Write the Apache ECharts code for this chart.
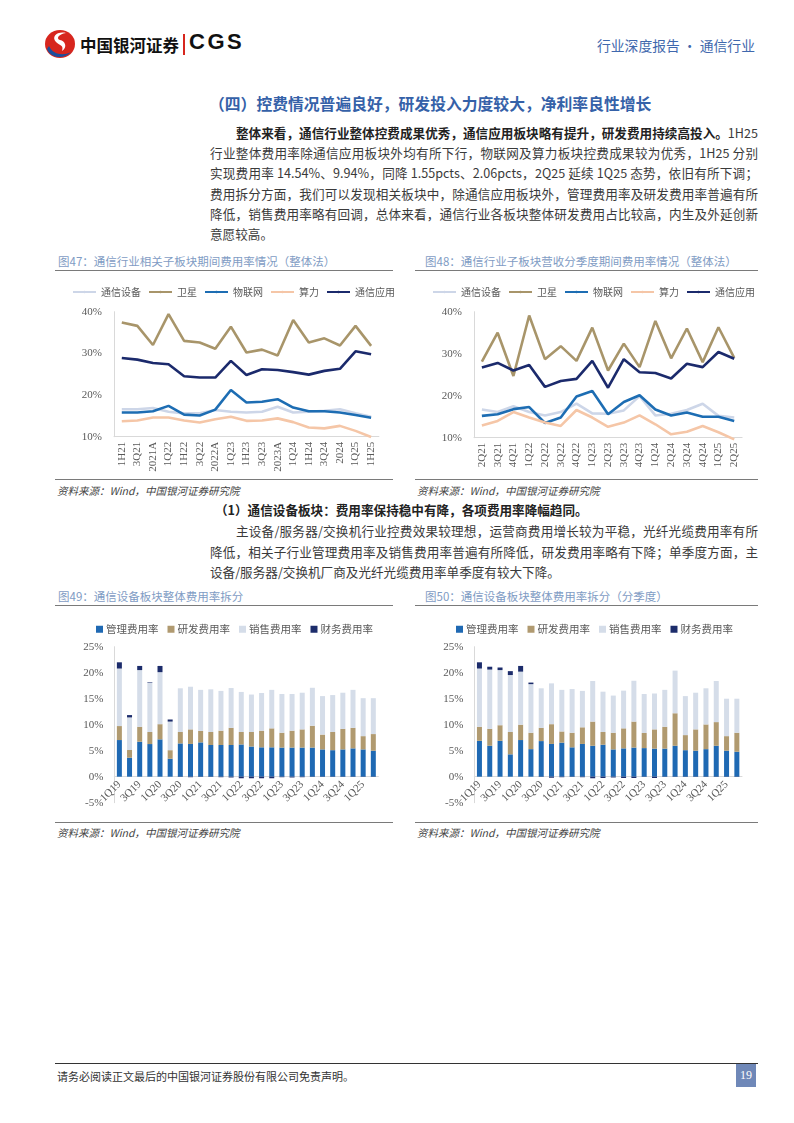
<!DOCTYPE html>
<html><head><meta charset="utf-8">
<script src="https://cdn.jsdelivr.net/npm/echarts@6/dist/echarts.min.js"></script>
<style>
body{margin:0;background:#fff;}
#page{position:relative;width:794px;height:1123px;background:#fff;overflow:hidden;font-family:"Noto Sans CJK SC","Noto Sans",sans-serif;color:#3a3a3a;}
.abs{position:absolute;white-space:nowrap;}
.ln{position:absolute;left:210px;width:548px;height:20px;line-height:20px;font-size:12.6px;text-align:justify;text-align-last:justify;white-space:nowrap;color:#3a3a3a;}
.ln.last{text-align-last:left;}
.figt{position:absolute;font-size:11.5px;color:#7f9cc4;height:16px;line-height:16px;}
.rule{position:absolute;height:1px;background:#7a7a7a;}
.src{position:absolute;font-size:10.5px;font-style:italic;color:#444;}
.chart{position:absolute;}
b{font-weight:700;color:#222;}
</style></head>
<body><div id="page">
<!-- header -->
<svg class="abs" style="left:44px;top:29px" width="32" height="30" viewBox="0 0 32 30">
 <ellipse cx="16" cy="15" rx="15" ry="14" fill="#d7261e"/>
 <path d="M3 20 C6 29 20 31 27 23 C20 27 9 26 5 17 Z" fill="#1c4e9c"/>
 <path d="M22 4 C13 2 7 8 12 13 C16 17 20 16 18 22 C24 18 21 12 16 11 C12 10 14 5 22 4 Z" fill="#fff"/>
</svg>
<div class="abs" style="left:80px;top:33px;font-size:16.5px;font-weight:700;color:#111;">中国银河证券</div>
<div class="abs" style="left:183px;top:34px;width:2px;height:21px;background:#d7261e"></div>
<div class="abs" style="left:189px;top:29px;font-size:22px;font-weight:700;color:#111;letter-spacing:2.5px;font-family:'Liberation Sans',Arial,sans-serif">CGS</div>
<div class="abs" style="left:597px;top:35px;font-size:13.8px;color:#3f68ad">行业深度报告 · 通信行业</div>

<div class="abs" style="left:209px;top:92px;font-size:15.8px;font-weight:700;color:#3561a8">（四）控费情况普遍良好，研发投入力度较大，净利率良性增长</div>

<div class="ln" style="top:123px;left:236px;width:522px"><b>整体来看，通信行业整体控费成果优秀，通信应用板块略有提升，研发费用持续高投入。</b>1H25</div>
<div class="ln" style="top:143px">行业整体费用率除通信应用板块外均有所下行，物联网及算力板块控费成果较为优秀，1H25 分别</div>
<div class="ln" style="top:163px">实现费用率 14.54%、9.94%，同降 1.55pcts、2.06pcts，2Q25 延续 1Q25 态势，依旧有所下调；</div>
<div class="ln" style="top:184px">费用拆分方面，我们可以发现相关板块中，除通信应用板块外，管理费用率及研发费用率普遍有所</div>
<div class="ln" style="top:204px">降低，销售费用率略有回调，总体来看，通信行业各板块整体研发费用占比较高，内生及外延创新</div>
<div class="ln last" style="top:224px">意愿较高。</div>

<div class="figt" style="left:58px;top:253px">图47：通信行业相关子板块期间费用率情况（整体法）</div>
<div class="rule" style="left:55px;top:270px;width:338px"></div>
<div class="figt" style="left:425px;top:253px">图48：通信行业子板块营收分季度期间费用率情况（整体法）</div>
<div class="rule" style="left:415px;top:270px;width:343px"></div>
<div id="c1" class="chart" style="left:55px;top:276px;width:340px;height:202px"></div>
<div id="c2" class="chart" style="left:415px;top:276px;width:345px;height:202px"></div>
<div class="rule" style="left:55px;top:479px;width:338px"></div>
<div class="rule" style="left:415px;top:479px;width:343px"></div>
<div class="src" style="left:57px;top:483px">资料来源：Wind，中国银河证券研究院</div>
<div class="src" style="left:417px;top:483px">资料来源：Wind，中国银河证券研究院</div>

<div class="abs" style="left:215px;top:500px;font-size:12.6px;font-weight:700;color:#222">（1）通信设备板块：费用率保持稳中有降，各项费用率降幅趋同。</div>
<div class="ln" style="top:521px;left:236px;width:522px">主设备/服务器/交换机行业控费效果较理想，运营商费用增长较为平稳，光纤光缆费用率有所</div>
<div class="ln" style="top:542px">降低，相关子行业管理费用率及销售费用率普遍有所降低，研发费用率略有下降；单季度方面，主</div>
<div class="ln last" style="top:562px">设备/服务器/交换机厂商及光纤光缆费用率单季度有较大下降。</div>

<div class="figt" style="left:58px;top:588px">图49：通信设备板块整体费用率拆分</div>
<div class="rule" style="left:55px;top:605px;width:338px"></div>
<div class="figt" style="left:425px;top:588px">图50：通信设备板块整体费用率拆分（分季度）</div>
<div class="rule" style="left:415px;top:605px;width:343px"></div>
<div id="c3" class="chart" style="left:55px;top:610px;width:340px;height:211px"></div>
<div id="c4" class="chart" style="left:415px;top:610px;width:345px;height:211px"></div>
<div class="rule" style="left:55px;top:822px;width:338px"></div>
<div class="rule" style="left:415px;top:822px;width:343px"></div>
<div class="src" style="left:57px;top:825px">资料来源：Wind，中国银河证券研究院</div>
<div class="src" style="left:417px;top:825px">资料来源：Wind，中国银河证券研究院</div>

<div class="rule" style="left:55px;top:1063px;width:703px;background:#333"></div>
<div class="abs" style="left:57px;top:1068px;font-size:11px;color:#333">请务必阅读正文最后的中国银河证券股份有限公司免责声明。</div>
<div class="abs" style="left:736px;top:1064px;width:20px;height:23px;background:#6f88b8;color:#fff;font-size:12px;line-height:23px;text-align:center;font-family:'Liberation Serif',serif">19</div>
</div>
<script>
// ---- data ----
const catsHalf = ['1H21','3Q21','2021A','1Q22','1H22','3Q22','2022A','1Q23','1H23','3Q23','2023A','1Q24','1H24','3Q24','2024','1Q25','1H25'];
const catsSeason = ['2Q21','3Q21','4Q21','1Q22','2Q22','3Q22','4Q22','1Q23','2Q23','3Q23','4Q23','1Q24','2Q24','3Q24','4Q24','1Q25','2Q25'];
const lineNames = ['通信设备','卫星','物联网','算力','通信应用'];

// fig47 (cumulative)
const a_equip = [16.6,16.6,16.9,16.0,15.6,15.6,16.4,16.0,15.8,16.0,17.2,15.8,16.0,16.2,16.6,15.6,14.8];
const a_sat   = [37.4,36.6,32.0,39.4,33.0,32.6,31.1,36.4,30.2,30.9,29.5,38.0,32.6,33.6,31.9,36.6,31.8];
const a_iot   = [15.8,15.8,16.1,17.4,15.3,15.1,16.5,21.2,18.2,18.4,19.0,17.0,16.1,16.1,15.8,15.2,14.54];
const a_comp  = [13.7,13.9,14.6,14.6,13.9,13.4,14.2,14.8,13.8,13.9,14.4,13.5,12.2,12.0,12.6,11.4,9.94];
const a_app   = [28.9,28.5,27.7,27.4,24.5,24.2,24.2,28.2,24.8,26.2,26.0,25.5,24.9,25.8,26.3,30.5,29.8];

// fig48 (single quarter)
const b_equip = [16.7,16.1,17.5,16.1,15.3,16.1,18.1,15.8,15.7,16.5,19.9,15.3,15.7,16.6,18.1,15.2,14.8];
const b_sat   = [28.1,35.0,24.7,39.1,28.7,31.8,28.3,36.2,26.0,32.4,26.8,37.8,28.9,36.0,28.0,36.3,29.0];
const b_iot   = [15.2,15.6,16.8,17.3,13.5,14.8,19.8,21.1,15.6,18.5,20.1,16.7,15.3,16.0,15.0,15.0,14.0];
const b_comp  = [12.9,14.0,16.1,14.8,13.6,12.8,16.6,14.8,12.6,13.6,15.3,13.2,10.8,11.4,12.8,11.3,9.6];
const b_app   = [26.7,27.8,26.0,27.3,22.1,23.5,24.0,28.3,21.9,28.7,25.6,25.4,24.1,27.6,26.8,30.4,28.8];

const yTicksLine = [10, 40, 10]; // min, max, interval
const yTicksBar = [-5, 25, 5];

const catsQ = ['1Q19','2Q19','3Q19','4Q19','1Q20','2Q20','3Q20','4Q20','1Q21','2Q21','3Q21','4Q21','1Q22','2Q22','3Q22','4Q22','1Q23','2Q23','3Q23','4Q23','1Q24','2Q24','3Q24','4Q24','1Q25','2Q25'];
const barNames = ['管理费用率','研发费用率','销售费用率','财务费用率'];

// fig49
const c_admin = [7.05,3.65,6.73,6.28,7.18,3.46,6.4,6.3,6.6,6.1,6.1,6.1,6.2,5.8,5.65,5.65,5.6,5.6,5.6,5.6,5.25,5.1,5.25,5.45,5.25,5.0];
const c_rd    = [2.69,1.48,2.87,2.32,2.92,1.64,2.2,2.8,2.2,2.5,2.75,3.3,2.4,2.8,3.2,3.65,2.85,3.25,3.5,4.2,2.85,3.5,3.95,3.95,2.55,3.2];
const c_sales = [11.06,6.27,10.9,9.5,10.0,5.5,8.4,8.2,7.9,8.2,7.65,7.65,7.7,7.2,7.25,7.4,7.45,7.05,7.05,7.3,7.4,7.1,6.95,7.3,7.3,6.9];
const c_fin   = [1.2,0.45,0.8,0.1,1.2,0.4,-0.05,-0.1,-0.05,-0.05,-0.1,-0.15,-0.3,-0.3,-0.3,-0.3,-0.1,-0.15,-0.1,-0.05,-0.05,-0.05,-0.05,-0.05,-0.05,-0.05];

// fig50
const d_admin = [6.9,5.95,6.9,4.3,7.05,5.3,6.85,6.3,6.55,5.65,6.3,5.95,6.15,5.25,5.45,5.6,5.5,5.4,5.4,5.95,5.1,5.0,5.3,5.95,5.0,4.8];
const d_rd    = [2.7,3.25,3.0,4.3,2.95,3.15,2.55,3.8,2.15,2.8,3.2,4.65,2.45,3.2,3.85,5.0,2.9,3.7,4.2,6.25,2.9,4.1,4.75,4.55,2.8,3.65];
const d_sales = [11.2,11.4,10.6,10.95,10.2,9.35,7.6,7.85,8.0,8.4,7.0,7.8,7.75,7.15,7.25,7.85,7.5,6.9,7.1,8.2,7.5,7.05,6.95,7.9,7.2,6.55];
const d_fin   = [1.2,0.55,0.5,0.75,1.1,0.3,-0.05,-0.2,-0.1,-0.05,-0.1,-0.3,-0.25,-0.15,-0.25,-0.25,-0.05,-0.25,-0.05,-0.05,-0.05,-0.05,-0.05,-0.05,-0.05,-0.05];

// ---- styles ----
const lineColors = ['#cdd6e8','#a8956a','#1d6db3','#f5c6a7','#1b2a6c'];
const barColors = ['#1f69b3','#b09a70','#d5dde9','#1c2c6b'];
const axisCol = '#d9d9d9';
const lblFont = {fontFamily:'Liberation Serif, serif', fontSize:11, color:'#595959'};

function lineOption(cats, series, gridW, gridH) {
  return {
    animation:false,
    legend:{top:11, left:17, padding:0, itemWidth:23, itemHeight:3, itemGap:7,
      textStyle:{fontSize:10, color:'#595959', fontFamily:'Noto Sans CJK SC'}, data:lineNames},
    grid:{left:59, top:35.7, width:gridW, height:gridH, outerBoundsMode:'none', containLabel:false},
    xAxis:{type:'category', data:cats, boundaryGap:true,
      axisLine:{lineStyle:{color:axisCol}}, axisTick:{show:false},
      axisLabel:Object.assign({rotate:90, interval:0, margin:5}, lblFont)},
    yAxis:{type:'value', min:yTicksLine[0], max:yTicksLine[1], interval:yTicksLine[2],
      axisLine:{show:true, lineStyle:{color:axisCol}}, splitLine:{show:false},
      axisLabel:Object.assign({formatter:'{value}%', margin:12}, lblFont)},
    series: series.map((d,i)=>({name:lineNames[i], type:'line', data:d, symbol:'none', clip:false,
      lineStyle:{width:2.6, color:lineColors[i]}, itemStyle:{color:lineColors[i]}}))
  };
}
function barOption(cats, series, gridW) {
  return {
    animation:false,
    legend:{top:9, left:36, itemWidth:7, itemHeight:7, itemGap:9, icon:'rect',
      textStyle:{fontSize:10.5, color:'#595959', fontFamily:'Noto Sans CJK SC', padding:[0,0,0,-2]}, data:barNames},
    grid:{left:59.3, top:36.7, width:gridW, height:156, outerBoundsMode:'none', containLabel:false},
    xAxis:{type:'category', data:cats, offset:-26,
      axisLine:{onZero:false, lineStyle:{color:axisCol}}, axisTick:{show:false},
      axisLabel:Object.assign({rotate:45, interval:1, margin:6}, lblFont)},
    yAxis:{type:'value', min:yTicksBar[0], max:yTicksBar[1], interval:yTicksBar[2],
      axisLine:{show:true, lineStyle:{color:axisCol}}, splitLine:{show:false},
      axisLabel:Object.assign({formatter:'{value}%', margin:11}, lblFont)},
    series: series.map((d,i)=>({name:barNames[i], type:'bar', stack:'t', data:d, barWidth:5,
      itemStyle:{color:barColors[i]}}))
  };
}
echarts.init(document.getElementById('c1')).setOption(lineOption(catsHalf,[a_equip,a_sat,a_iot,a_comp,a_app],264.9,125));
echarts.init(document.getElementById('c2')).setOption(lineOption(catsSeason,[b_equip,b_sat,b_iot,b_comp,b_app],268.1,126));
echarts.init(document.getElementById('c3')).setOption(barOption(catsQ,[c_admin,c_rd,c_sales,c_fin],264.1));
echarts.init(document.getElementById('c4')).setOption(barOption(catsQ,[d_admin,d_rd,d_sales,d_fin],267.7));
</script>
</body></html>
